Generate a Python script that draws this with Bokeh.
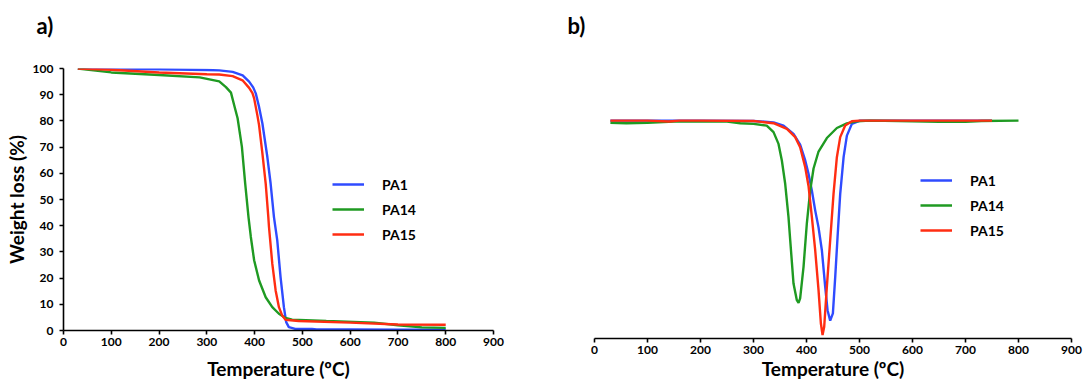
from bokeh.plotting import figure
from bokeh.layouts import row
from bokeh.models import Legend, LegendItem, FixedTicker, Range1d
from bokeh.embed import file_html
from bokeh.resources import INLINE

FONT = "Lato"
BLUE = "#2f4bff"
GREEN = "#1f9a22"
RED = "#ff2d12"

series_names = ["PA1", "PA14", "PA15"]
panel_titles = ["a)", "b)"]
x_ticks = [0, 100, 200, 300, 400, 500, 600, 700, 800, 900]
y_ticks_tga = [0, 10, 20, 30, 40, 50, 60, 70, 80, 90, 100]

# ---- TGA (weight %) ----
tga_t_pa1 = [30, 100, 200, 300, 326, 354, 375, 388.5, 397, 402.4, 409, 416.3, 426.6, 433.5,
             440.5, 447.4, 454.3, 461.3, 466.1, 471.6, 485, 520, 530, 600, 700, 800]
tga_w_pa1 = [100, 99.9, 99.7, 99.4, 99.3, 98.7, 97.4, 95.0, 92.8, 90.5, 85.6, 79.0, 66.3, 56.1,
             43.3, 34.4, 20.4, 8.9, 3.2, 1.3, 0.6, 0.6, 0.4, 0.4, 0.3, 0.3]

tga_t_pa14 = [30, 100, 200, 285, 326, 340, 350.5, 357.4, 364.4, 373.4, 380.3, 387.2, 392.1,
              399, 409.4, 423.2, 437, 450.9, 464.7, 478.5, 550, 650, 700, 750, 800]
tga_w_pa14 = [100, 98.5, 97.5, 96.6, 95.1, 92.9, 90.8, 85.9, 81.0, 70.1, 56.1, 43.3, 35.7,
              26.8, 19.1, 12.7, 8.9, 6.4, 4.8, 4.1, 3.6, 3.0, 2.0, 1.2, 1.0]

tga_t_pa15 = [30, 100, 200, 300, 326, 354, 374.7, 388.5, 395.5, 399, 405.8, 409.3, 416.3,
              423.2, 428.7, 430.1, 437, 444, 450.9, 457.8, 464.7, 492.4, 600, 700, 800]
tga_w_pa15 = [100, 99.5, 98.5, 97.8, 97.7, 97.1, 95.5, 92.6, 90.6, 88.6, 82.1, 78.4, 67.6,
              56.1, 43.3, 39.5, 25.5, 15.3, 8.9, 5.7, 4.1, 3.6, 3.0, 2.3, 2.2]

# ---- DTG (derivative, arbitrary units) ----
dtg_t_pa1 = [30, 100, 200, 300, 337.8, 356.7, 375.5, 388, 397.6, 403.8, 410, 416.4, 422.7,
             429, 435.3, 439.7, 444.7, 449.8, 454.2, 458.6, 463.6, 470, 476.2, 485.6, 501,
             600, 750]
dtg_v_pa1 = [0, 0, 0, -0.2, -0.8, -2.3, -6.1, -11, -18.3, -24.4, -32, -41.2, -49,
             -59.5, -76.3, -87, -91.8, -88.5, -71.7, -53.4, -33.6, -16.8, -6.9, -1.5, 0,
             0, 0]

dtg_t_pa14 = [30, 60, 100, 150, 250, 275, 300, 325, 337.8, 347.2, 353.5, 359.8, 366, 369.3,
              375.5, 381.8, 385, 388, 394.4, 400.7, 407, 413.3, 422.7, 438.4, 457.3, 476,
              495, 520, 600, 650, 700, 730, 800]
dtg_v_pa14 = [-1.0, -1.2, -1.0, -0.5, -0.5, -1.2, -1.5, -2.3, -5.3, -10.7, -18.3, -29, -44.2,
              -55, -74.8, -82.4, -83.6, -81.6, -67.1, -47, -32, -22, -14.2, -8, -3.4, -1.3,
              -0.3, 0, -0.3, -0.6, -0.6, -0.2, 0]

dtg_t_pa15 = [30, 100, 140, 160, 200, 300, 337.8, 363, 378.7, 388, 397.6, 403.8, 410, 416.4,
              422.7, 427.1, 430.3, 433.4, 438.4, 444.7, 451, 457.3, 463.6, 473, 485.6, 500, 750]
dtg_v_pa15 = [0, 0, -0.4, 0, 0, -0.2, -1.2, -3.8, -7.6, -12.2, -21.4, -30, -44, -59.5,
              -77.8, -93, -98.4, -94.6, -76.3, -54.9, -33.6, -16.8, -7.6, -2.3, -0.3, 0, 0]

H = 382
TOP = 68


def style_xaxis(p, label_standoff):
    ax = p.xaxis[0]
    ax.ticker = FixedTicker(ticks=x_ticks)
    ax.axis_line_width = 1.6
    ax.axis_line_color = "black"
    ax.major_tick_line_width = 1.6
    ax.major_tick_line_color = "black"
    ax.major_tick_in = 0
    ax.major_tick_out = 4
    ax.minor_tick_line_color = None
    ax.major_label_text_font = FONT
    ax.major_label_text_font_style = "bold"
    ax.major_label_text_font_size = "12px"
    ax.major_label_text_color = "black"
    ax.major_label_standoff = 3
    ax.axis_label = "Temperature (ºC)"
    ax.axis_label_text_font = FONT
    ax.axis_label_text_font_style = "bold"
    ax.axis_label_text_font_size = "19px"
    ax.axis_label_text_color = "black"
    ax.axis_label_standoff = label_standoff


def style_title(p, text):
    # second (blank) line lifts the panel letter well above the frame
    p.title.text = text + "\n\u00a0"
    p.title.align = "left"
    p.title.offset = -27
    p.title.vertical_align = "bottom"
    p.title.text_font = FONT
    p.title.text_font_style = "bold"
    p.title.text_font_size = "22px"
    p.title.text_color = "black"
    p.title.standoff = 6


def make_legend(p, renderers, loc):
    items = [LegendItem(label=n, renderers=[r]) for n, r in zip(series_names, renderers)]
    leg = Legend(items=items, location=loc, orientation="vertical",
                 background_fill_alpha=0, border_line_color=None,
                 padding=0, margin=0, spacing=5,
                 glyph_width=32, glyph_height=20, label_height=20, label_standoff=18,
                 label_text_font=FONT, label_text_font_style="bold",
                 label_text_font_size="14px", label_text_color="black")
    p.add_layout(leg)


# ---------- panel a ----------
p1 = figure(width=540, height=H, output_backend="svg", toolbar_location=None,
            x_range=Range1d(0, 900), y_range=Range1d(0, 100),
            min_border_left=63, min_border_right=47, min_border_top=TOP, min_border_bottom=52)
p1.frame_align = False
p1.outline_line_color = None
p1.grid.visible = False
style_title(p1, panel_titles[0])
style_xaxis(p1, 8)
ya = p1.yaxis[0]
ya.ticker = FixedTicker(ticks=y_ticks_tga)
ya.axis_line_width = 1.6
ya.axis_line_color = "black"
ya.major_tick_line_width = 1.6
ya.major_tick_line_color = "black"
ya.major_tick_in = 0
ya.major_tick_out = 4
ya.minor_tick_line_color = None
ya.major_label_text_font = FONT
ya.major_label_text_font_style = "bold"
ya.major_label_text_font_size = "12px"
ya.major_label_text_color = "black"
ya.major_label_standoff = 6
ya.axis_label = "Weight loss (%)"
ya.axis_label_text_font = FONT
ya.axis_label_text_font_style = "bold"
ya.axis_label_text_font_size = "19px"
ya.axis_label_text_color = "black"
ya.axis_label_standoff = 2

r1 = p1.line(tga_t_pa1, tga_w_pa1, line_color=BLUE, line_width=2.4)
r2 = p1.line(tga_t_pa14, tga_w_pa14, line_color=GREEN, line_width=2.4)
r3 = p1.line(tga_t_pa15, tga_w_pa15, line_color=RED, line_width=2.4)
make_legend(p1, [r1, r2, r3], (269, 86))

# ---------- panel b ----------
p2 = figure(width=544, height=H, output_backend="svg", toolbar_location=None,
            x_range=Range1d(0, 900), y_range=Range1d(-100, 23.9),
            min_border_left=54, min_border_right=13, min_border_top=TOP, min_border_bottom=44)
p2.frame_align = False
p2.outline_line_color = None
p2.grid.visible = False
p2.yaxis.visible = False
style_title(p2, panel_titles[1])
style_xaxis(p2, 0)

s1 = p2.line(dtg_t_pa1, dtg_v_pa1, line_color=BLUE, line_width=2.4)
s2 = p2.line(dtg_t_pa14, dtg_v_pa14, line_color=GREEN, line_width=2.4)
s3 = p2.line(dtg_t_pa15, dtg_v_pa15, line_color=RED, line_width=2.4)
make_legend(p2, [s1, s2, s3], (326, 98))

layout = row(p1, p2)
open("out.html", "w").write(file_html(layout, INLINE))
